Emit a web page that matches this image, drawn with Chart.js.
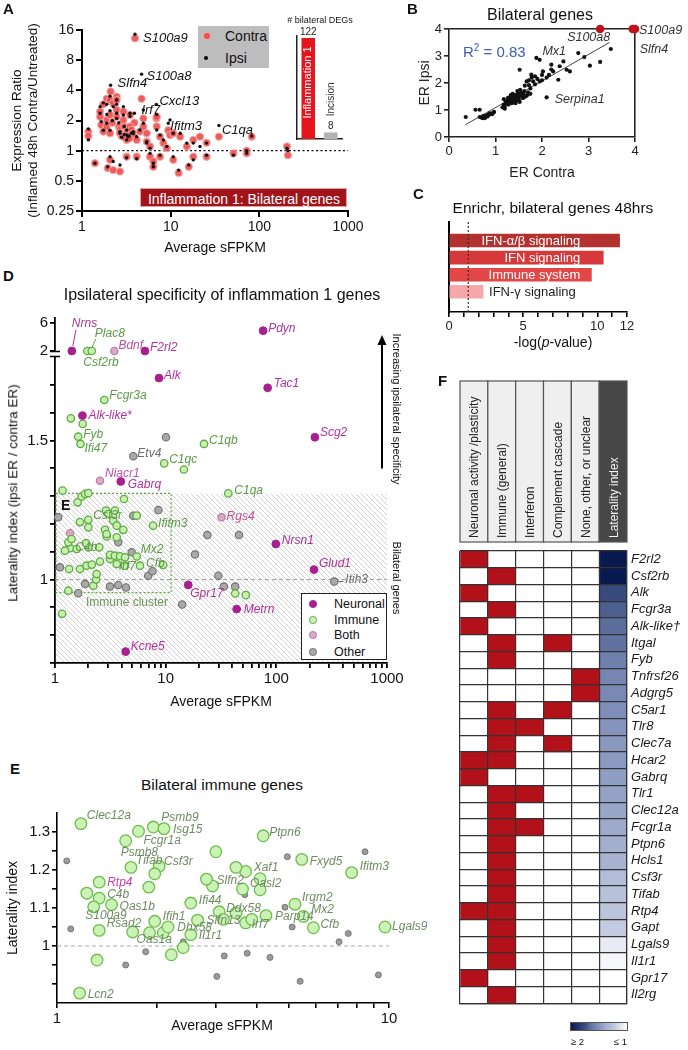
<!DOCTYPE html>
<html lang="en">
<head>
<meta charset="utf-8">
<title>Inflammation 1 bilateral genes</title>
<script src="https://cdn.jsdelivr.net/npm/chart.js"></script>
<style>
  html, body { margin:0; padding:0; background:#fff; }
  #fig { position:relative; width:688px; height:1050px; overflow:hidden; background:#fff;
         font-family:'Liberation Sans', Arial, Helvetica, sans-serif; color:#111; }
  #fig canvas { position:absolute; }
  .t { position:absolute; white-space:nowrap; line-height:1; }
</style>
</head>
<body>
<div id="fig"></div>
<script>
// ======================= DATA =======================
// Panel A : expression ratio vs average sFPKM (first 7 genes are labelled)
const aLabeled = ['S100a9','S100a8','Slfn4','Cxcl13','Irf7','Ifitm3','C1qa'];
const aSfpkm = [3.96,4.7,2.1,6.9,3.9,9.4,35, 1.18,1.18,1.4,1.6,1.6,1.65,1.74,1.74,1.9,1.9,1.9,1.95,2.07,2.07,2.07,2.07,2.25,2.25,2.46,2.46,2.46,2.46,2.6,2.68,2.68,2.68,2.93,2.93,3.0,3.19,3.19,3.3,3.19,3.19,3.48,3.48,3.6,3.79,3.79,4.14,4.14,4.5,4.92,4.92,5.37,5.37,5.85,5.85,6.38,6.38,6.96,6.96,7.59,7.59,8.28,9.03,9.84,10.7,10.7,12.3,12.8,15.2,16,18,18,21.4,25.4,25.4,51,72,72,82,205,210,2.8,3.0,3.4,2.2];
const aContra = [13.2,3.3,3.9,2.1,1.9,1.6,1.38, 1.55,1.40,0.75,2.45,2.18,1.80,1.55,2.9,3.3,2.02,1.74,0.67,3.2,2.27,1.49,0.81,0.64,2.97,3.46,3.2,2.55,2.18,1.74,1.61,1.49,0.62,2.45,2.02,1.74,1.55,1.49,1.43,1.28,0.87,2.27,1.74,1.61,1.49,1.38,1.28,0.87,1.55,2.1,1.74,1.49,1.23,1.10,0.87,0.78,0.69,2.18,1.74,0.87,1.38,1.19,1.06,1.43,1.49,0.81,0.6,1.38,1.10,0.69,1.28,0.87,1.38,0.87,1.2,0.94,0.94,1.0,1.38,1.1,0.9,1.40,1.36,1.32,1.9];
const aIpsi = [14.5,5.8,4.5,2.9,2.36,1.88,1.78, 1.65,1.28,0.75,2.75,2.36,1.95,1.6,3.0,2.9,2.3,1.88,0.69,3.5,2.5,1.6,0.87,0.78,2.75,3.2,2.9,2.36,2.1,1.9,1.55,1.49,0.72,2.75,2.27,1.74,1.61,1.43,1.38,1.28,0.85,2.36,2.2,1.49,1.49,1.55,1.38,0.83,1.61,2.55,1.88,1.23,1.19,1.06,0.94,0.75,0.69,2.3,1.61,0.9,1.43,1.28,1.1,2.02,1.49,0.87,0.64,1.49,1.19,0.72,1.19,0.81,1.1,0.9,1.19,0.9,1.0,0.94,1.4,1.06,1.0,1.36,1.45,1.4,2.0];
const aNoChange = 1;
const aXTicks = [1, 10, 100, 1000];
const aYTicks = [0.25, 0.5, 1, 2, 4, 8, 16];
const aDegCategories = ['Inflammation 1', 'Incision'];
const aDegCounts = [122, 8];

// Panel B : ER Ipsi vs ER Contra (first 2 labelled)
const bGenes = ['Mx1','Serpina1'];
const bContra = [1.88,2.1,
  0.36,0.57,0.66,0.66,0.7,0.72,0.75,0.78,0.8,0.82,0.85,0.88,0.9,0.93,0.95,0.74,0.77,0.83,0.87,0.97,
  1.15,1.18,1.2,1.22,1.25,1.25,1.28,1.3,1.3,1.32,1.35,1.35,1.38,1.4,1.4,1.42,1.45,1.45,1.48,1.5,1.5,1.52,1.55,1.55,1.58,1.6,1.62,1.65,1.68,1.7,1.2,1.27,1.33,1.37,1.43,1.47,1.53,1.6,1.75,1.18,
  1.95,1.52,1.77,2.02,2.2,2.24,2.38,2.46,2.53,2.6,2.35,2.78,2.91,3.03,3.25,3.48,1.63,1.67,1.72,1.81,1.85,1.9,1.95,2.0,2.1,2.15,1.78,1.72,1.85,2.0,2.2,1.75];
const bIpsi = [2.93,1.47,
  0.74,1.01,1.01,0.74,0.72,0.7,0.75,0.73,0.78,0.8,0.82,0.84,0.86,0.85,0.9,0.78,0.7,0.76,0.88,0.93,
  1.1,1.2,1.15,1.3,1.25,1.35,1.2,1.4,1.3,1.45,1.35,1.25,1.5,1.4,1.3,1.55,1.45,1.35,1.6,1.5,1.4,1.3,1.55,1.65,1.45,1.6,1.7,1.5,1.55,1.65,1.05,1.45,1.55,1.6,1.25,1.7,1.75,1.45,1.6,1.4,
  2.86,2.49,2.31,2.43,2.68,2.43,2.62,2.8,2.49,2.43,2.12,3.11,2.96,2.64,2.78,3.26,1.9,2.06,2.1,2.06,1.95,2.15,2.06,2.1,2.2,2.3,2.2,1.92,2.25,2.3,2.5,1.8];
const bCappedGenes = ['S100a8','Slfn4','S100a9'];
const bCappedContra = [3.25, 3.95, 4.0];
const bCappedIpsi = [4, 4, 4];
const bFitX = [0.35, 3.45];
const bFitY = [0.45, 3.5];
const bR2 = 0.83;
const bTicks = [0, 1, 2, 3, 4];

// Panel C : Enrichr
const cTerms = ['IFN-\u03b1/\u03b2 signaling','IFN signaling','Immune system','IFN-\u03b3 signaling'];
const cValues = [11.5, 10.4, 9.6, 2.3];
const cThreshold = 1.3;
const cXTicks = [0,1,2,3,4,5,6,7,8,9,10,11,12];
const cXTickLabels = ['0','','','','','5','','','','','10','','12'];

// Panel D : laterality index vs sFPKM by category
const dNeuronalGenes = ['Nrns','F2rl2','Pdyn','Alk','Tac1','Alk-like*','Scg2','Gabrq','Nrsn1','Glud1','Gpr17','Metrn','Kcne5'];
const dNeuronalX = [1.42,6.5,76,8.7,83.5,1.77,223,3.93,99,219,16,43.8,4.35];
const dNeuronalY = [2,2,4.9,1.725,1.69,1.59,1.512,1.353,1.128,1.036,0.981,0.894,0.741];
const dImmuneGenes = ['Csf2rb','Plac8','Fcgr3a','Fyb','Ifi47','C1qb','C1qc','C1qa','Ifitm3','Csf3r','C4b','Mx2','Cfb','Irf7'];
const dImmuneX = [1.96,2.15,2.79,1.62,1.7,22.2,9.7,36.8,7.7,2.0,1.37,5.47,5.86,3.61,
  1.39,1.78,14.6,1.17,42.5,53,1.16,
  1.32,2.22,2.35,2.38,1.34,1.68,1.93,2.15,2.55,3.14, 4.29,9.5,1.23,1.57,2.0,2.51,3.14,3.48,3.87,4.29,
  1.32,1.41,1.91,2.93,3.61,1.68,2.0,2.83,2.93,3.36, 3.61,4.14,2.89,3.03,3.48,5.47,1.6,1.74,1.87,2.0, 4.2];
const dImmuneY = [2,2,1.646,1.514,1.488,1.488,1.418,1.31,1.194,1.215,1.113,1.083,1.05,1.056,
  1.58,1.56,1.396,1.32,0.95,0.944,0.877,
  0.96,0.978,1.0,1.02,1.038,1.038,1.05,1.054,1.065,1.074, 1.05,1.053,1.104,1.11,1.116,1.116,1.089,1.086,1.084,1.08,
  1.134,1.146,1.131,1.155,1.152,1.207,1.188,1.179,1.164,1.212, 1.194,1.179,1.248,1.236,1.248,1.23,1.278,1.299,1.308,1.311, 1.29];
const dBothGenes = ['Bdnf','Niacr1','Rgs4'];
const dBothX = [3.44,2.55,32,1.37];
const dBothY = [2,1.356,1.224,1.167];
const dOtherGenes = ['Etv4','Itih3'];
const dOtherX = [5.1,334,10.07,8.6,23.8,46,18.4,29.9,33.6,42.5,14.1,1.62,1.87,3.14,3.73,4.38,6.96,7.6,1.11,4.93,3.73,5.1,1.07];
const dOtherY = [1.444,0.993,1.512,1.25,1.16,1.16,1.09,1.014,0.975,0.975,0.91,0.951,0.984,0.975,0.981,0.972,1.014,1.03,1.044,1.098,1.134,1.23,1.224];
const dBilateralMax = 1.31;
const dClusterBox = [1, 11.2, 0.953, 1.31];   // xMin, xMax, yMin, yMax of the immune cluster
const dBreakAt = 1.9;
const dXTicks = [1,2,3,4,5,6,7,8,9,10,20,30,40,50,60,70,80,90,100,200,300,400,500,600,700,800,900,1000];
const dXTickLabels = ['1','','','','','','','','','10','','','','','','','','','100','','','','','','','','','1000'];
const dYTicks = [0.7,0.8,0.9,1,1.1,1.2,1.3,1.4,1.5,1.6,1.7];
const dYTickLabels = ['','','','1','','','','','1.5','',''];
const dY2Ticks = [2, 6];
const dY2TickLabels = ['2', '6'];

// Panel E : bilateral immune genes
const eImmuneGenes = ['Clec12a','Psmb8','Fcgr1a','Psmb9','Isg15','Ptpn6','Tifab','Csf3r','Fxyd5','Ifitm3','Xaf1','Oasl2','Slfn2','Rtp4','C4b','Oas1b','Ifi44','Ddx58','Irgm2','Mx2','Parp14','Slfn13','Irf7','Cfb','Lgals9','Ifih1','S100a9','Rsad2','Oas1a','Dhx58','Il1r1','Lcn2'];
const eImmuneX = [1.18,1.61,1.76,1.95,2.1,4.18,1.67,2.03,5.46,7.72,3.7,4.09,2.94,1.34,1.34,1.46,2.53,3.08,5.21,5.52,4.26,2.65,3.7,5.92,9.73,1.97,1.34,1.69,1.9,2.09,2.53,1.17,
  3.01,1.97,3.46,4.09,2.82,3.62,1.23,1.89,1.29,3.46,3.86,3.17,2.16,2.4,2.21,1.32];
const eImmuneY = [1.322,1.277,1.302,1.313,1.309,1.29,1.207,1.21,1.228,1.193,1.196,1.148,1.158,1.168,1.126,1.109,1.113,1.09,1.11,1.078,1.08,1.068,1.061,1.048,1.05,1.065,1.041,1.037,1.035,1.035,1.03,0.876,
  1.248,1.19,1.207,1.177,1.176,1.15,1.139,1.155,1.103,1.087,1.07,1.07,1.05,0.996,0.977,0.963];
const eBothGenes = ['Rtp4'];
const eOtherX = [1.07,1.1,1.61,1.85,2.4,3.03,3.19,3.74,4.38,3.68,4.86,5.11,5.4,7.07,7.54,8.47,9.29,4.94];
const eOtherY = [1.224,1.045,0.95,0.985,1.011,0.92,0.974,0.981,0.97,1.135,1.102,1.05,0.907,1.011,1.033,1.248,0.924,1.235];
const eXTicks = [1,2,3,4,5,6,7,8,9,10];
const eXTickLabels = ['1','','','','','','','','','10'];
const eYTicks = [0.9,0.95,1,1.05,1.1,1.15,1.2,1.25,1.3];
const eYTickLabels = ['','','1','','1.1','','1.2','','1.3'];

// Panel F : annotation heat map
const fHeaders = ['Neuronal activity /plasticity','Immune (general)','Interferon','Complement cascade','None, other, or unclear','Laterality index'];
const fGenes = ['F2rl2','Csf2rb','Alk','Fcgr3a','Alk-like\u2020','Itgal','Fyb','Tnfrsf26','Adgrg5','C5ar1','Tlr8','Clec7a','Hcar2','Gabrq','Tlr1','Clec12a','Fcgr1a','Ptpn6','Hcls1','Csf3r','Tifab','Rtp4','Gapt','Lgals9','Il1r1','Gpr17','Il2rg'];
const fNeuronal   = [1,0,1,0,1,0,0,0,0,0,0,0,1,1,0,0,0,0,0,0,0,1,0,0,0,1,0];
const fImmune     = [0,1,0,1,0,1,1,0,0,1,1,1,1,0,1,1,1,1,1,1,1,1,1,1,1,0,1];
const fInterferon = [0,0,0,0,0,0,0,0,0,0,1,0,0,0,1,0,1,0,0,0,0,0,0,0,0,0,0];
const fComplement = [0,0,0,0,0,1,0,0,0,1,0,1,0,0,0,0,0,0,0,0,0,0,0,0,0,0,0];
const fNone       = [0,0,0,0,0,0,0,1,1,0,0,0,0,0,0,0,0,0,0,0,0,0,0,0,0,0,0];
const fLaterality = [2.3,2.2,1.72,1.64,1.59,1.57,1.52,1.5,1.49,1.47,1.45,1.43,1.42,1.4,1.38,1.36,1.34,1.31,1.29,1.24,1.22,1.2,1.18,1.07,1.03,0.98,0.97];

// ======================= HELPERS =======================
const fig = document.getElementById('fig');
const FONT = "'Liberation Sans', Arial, Helvetica, sans-serif";
Chart.defaults.font.family = FONT;
Chart.defaults.color = '#111';

function txt(html, x, y, o) {
  o = o || {};
  const d = document.createElement('div');
  d.className = 't';
  d.innerHTML = html;
  d.style.fontSize = (o.size || 13) + 'px';
  if (o.bold) d.style.fontWeight = 'bold';
  if (o.italic) d.style.fontStyle = 'italic';
  if (o.color) d.style.color = o.color;
  d.style.left = x + 'px';
  d.style.top = y + 'px';
  if (o.rot) d.style.transform = 'translate(-50%,-50%) rotate(' + o.rot + 'deg)';
  else d.style.transform = 'translate(' + (o.align === 'left' ? '0' : (o.align === 'right' ? '-100%' : '-50%')) + ',-50%)';
  (o.parent || fig).appendChild(d);
  return d;
}
function box(L, T, W, H, css) {
  const d = document.createElement('div');
  d.style.cssText = 'position:absolute;left:' + L + 'px;top:' + T + 'px;width:' + W + 'px;height:' + H + 'px;box-sizing:border-box;' + (css || '');
  fig.appendChild(d);
  return d;
}
function dot(parent, cx, cy, d, bg, border, bw) {
  const s = document.createElement('span');
  bw = bw || 0;
  s.style.cssText = 'position:absolute;box-sizing:border-box;border-radius:50%;left:' + (cx - d / 2) + 'px;top:' + (cy - d / 2) + 'px;width:' + d + 'px;height:' + d + 'px;background:' + bg + ';border:' + bw + 'px solid ' + border + ';';
  parent.appendChild(s);
}
function mk(id, L, T, W, H) {
  const c = document.createElement('canvas');
  c.id = id; c.width = W; c.height = H;
  c.style.left = L + 'px'; c.style.top = T + 'px';
  c.style.width = W + 'px'; c.style.height = H + 'px';
  fig.appendChild(c);
  return c;
}
const BASE = {responsive:false, maintainAspectRatio:false, animation:false, devicePixelRatio:1, events:[]};
const NOPLUG = {legend:{display:false}, tooltip:{enabled:false}};
const ticksFrom = vals => s => { s.ticks = vals.map(v => ({value: v})); };
const fixW = w => s => { s.width = w; };
const fixH = h => s => { s.height = h; };
function pointLabels(id, items) {
  return {id, afterDatasetsDraw(chart) {
    const ctx = chart.ctx;
    ctx.save();
    items.forEach(it => {
      const px = chart.scales[it.xAxis || 'x'].getPixelForValue(it.x);
      const py = chart.scales[it.yAxis || 'y'].getPixelForValue(it.y);
      if (it.leader) {
        ctx.strokeStyle = it.color; ctx.lineWidth = 1;
        ctx.beginPath();
        ctx.moveTo(px + it.leader[0], py + it.leader[1]);
        ctx.lineTo(px + it.leader[2], py + it.leader[3]);
        ctx.stroke();
      }
      ctx.font = 'italic ' + it.size + 'px ' + FONT;
      ctx.fillStyle = it.color;
      ctx.textAlign = 'left'; ctx.textBaseline = 'middle';
      ctx.fillText(it.text, px + it.dx, py + it.dy);
    });
    ctx.restore();
  }};
}
function axisStyle(width, tick) {
  return {
    grid: {drawOnChartArea:false, tickLength:tick || 5, color:'#000', lineWidth:width},
    border: {color:'#000', width:width}
  };
}

// ======================= PANEL A =======================
const aLabelOffsets = [[8,4],[5,2],[7,-2],[3,-3],[7,-3],[2,3],[3,5]];
new Chart(mk('chartA', 0, 0, 370, 260), {
  type: 'scatter',
  data: {datasets: [
    {label:'Ipsi', data:aSfpkm.map((x,i) => ({x, y:aIpsi[i]})), order:0, pointRadius:1.7,
     pointBackgroundColor:'#111', backgroundColor:'#111', pointBorderWidth:0, clip:false},
    {label:'Contra', data:aSfpkm.map((x,i) => ({x, y:aContra[i]})), order:1, pointRadius:3.7,
     pointBackgroundColor:'rgba(236,74,74,0.9)', backgroundColor:'rgba(236,74,74,0.9)',
     pointBorderColor:'rgba(246,172,172,0.95)', pointBorderWidth:1, clip:false},
    {type:'line', label:'no change', data:[{x:aXTicks[0], y:aNoChange},{x:aXTicks[aXTicks.length-1], y:aNoChange}],
     borderColor:'#000', borderWidth:1.3, borderDash:[2,2.5], pointRadius:0, order:2}
  ]},
  options: Object.assign({}, BASE, {
    plugins: NOPLUG,
    layout: {padding:{left:0, top:30, right:22, bottom:0}},
    scales: {
      x: Object.assign({type:'logarithmic', min:1, max:1000, afterFit:fixH(49), afterBuildTicks:ticksFrom(aXTicks),
        ticks:{autoSkip:false, maxRotation:0, font:{size:14}, color:'#111', padding:2, callback:v => String(v)},
        title:{display:true, text:'Average sFPKM', font:{size:14}, color:'#111', padding:{top:0, bottom:3.6}}}, axisStyle(2, 6)),
      y: Object.assign({type:'logarithmic', min:0.25, max:16, afterFit:fixW(82), afterBuildTicks:ticksFrom(aYTicks),
        ticks:{autoSkip:false, font:{size:14}, color:'#111', padding:2, callback:v => String(v)},
        title:{display:true, text:['Expression Ratio','(Inflamed 48h Contra/Untreated)'], font:{size:13.5}, color:'#111', padding:{top:9, bottom:0}}}, axisStyle(2, 6))
    }
  }),
  plugins: [pointLabels('aLabels', aLabeled.map((g,i) => ({text:g, x:aSfpkm[i], y:aIpsi[i], dx:aLabelOffsets[i][0], dy:aLabelOffsets[i][1], color:'#111', size:13})))]
});

// inset: number of bilateral DEGs
const insetLabels = {
  id: 'insetLabels',
  afterDatasetsDraw(chart) {
    const ctx = chart.ctx, bars = chart.getDatasetMeta(0).data;
    ctx.save();
    ctx.font = '10px ' + FONT; ctx.fillStyle = '#222'; ctx.textAlign = 'center'; ctx.textBaseline = 'bottom';
    bars.forEach((b,i) => ctx.fillText(String(aDegCounts[i]), b.x, b.y - 1));
    bars.forEach((b,i) => {
      ctx.save();
      const inside = (b.base - b.y) > 60;
      const cy = inside ? (b.y + b.base) / 2 - 6 : b.y - 33;
      ctx.translate(b.x, cy); ctx.rotate(-Math.PI / 2);
      ctx.textAlign = 'center'; ctx.textBaseline = 'middle';
      ctx.fillStyle = inside ? '#fff' : '#333';
      ctx.font = (inside ? 11 : 10) + 'px ' + FONT;
      ctx.fillText(aDegCategories[i], 0, 0);
      ctx.restore();
    });
    ctx.restore();
  }
};
new Chart(mk('chartAinset', 285, 15, 75, 130), {
  type: 'bar',
  data: {labels:aDegCategories, datasets:[{data:aDegCounts, backgroundColor:['#e6141c','#b3b3b3'], barPercentage:0.6, categoryPercentage:1}]},
  options: Object.assign({}, BASE, {
    plugins: NOPLUG,
    layout: {padding:{left:0, top:21, right:18, bottom:0}},
    scales: {
      x: {afterFit:fixH(6), ticks:{display:false}, grid:{display:false}, border:{color:'#222', width:1.5}},
      y: {min:0, max:124.5, afterFit:fixW(12), ticks:{display:false}, grid:{display:false}, border:{color:'#222', width:1.5}}
    }
  }),
  plugins: [insetLabels]
});

// ======================= PANEL B =======================
const bLabelOffsets = [[6,-6],[8,2]];
const bCappedOffsets = [[-33,9],[7,21],[4,2]];
const frameColor = c => (c.tick && c.tick.value === bTicks[bTicks.length-1]) ? '#222' : 'rgba(0,0,0,0)';
new Chart(mk('chartB', 405, 0, 283, 185), {
  type: 'scatter',
  data: {datasets: [
    {label:'genes', data:bContra.map((x,i) => ({x, y:bIpsi[i]})), pointRadius:2.1, pointBackgroundColor:'#111', backgroundColor:'#111', pointBorderWidth:0, clip:false, order:1},
    {label:'capped', data:bCappedContra.map((x,i) => ({x, y:bCappedIpsi[i]})), pointRadius:4.3, pointBackgroundColor:'#c0121a', backgroundColor:'#c0121a', pointBorderWidth:0, clip:false, order:0},
    {type:'line', label:'fit', data:bFitX.map((x,i) => ({x, y:bFitY[i]})), borderColor:'#444', borderWidth:1, pointRadius:0, order:2}
  ]},
  options: Object.assign({}, BASE, {
    plugins: NOPLUG,
    layout: {padding:{left:0, top:29, right:53, bottom:0}},
    scales: {
      x: {type:'linear', min:0, max:4, afterFit:fixH(48), afterBuildTicks:ticksFrom(bTicks),
        ticks:{autoSkip:false, font:{size:13}, color:'#222', padding:2},
        grid:{color:frameColor, tickColor:'#222', tickLength:5, lineWidth:1.6},
        border:{color:'#222', width:1.6},
        title:{display:true, text:'ER Contra', font:{size:14}, color:'#222', padding:{top:0, bottom:3.6}}},
      y: {type:'linear', min:0, max:4, afterFit:fixW(44), afterBuildTicks:ticksFrom(bTicks),
        ticks:{autoSkip:false, font:{size:13}, color:'#222', padding:2},
        grid:{color:frameColor, tickColor:'#222', tickLength:5, lineWidth:1.6},
        border:{color:'#222', width:1.6},
        title:{display:true, text:'ER Ipsi', font:{size:14}, color:'#222', padding:{top:11.6, bottom:0}}}
    }
  }),
  plugins: [pointLabels('bLabels',
    bGenes.map((g,i) => ({text:g, x:bContra[i], y:bIpsi[i], dx:bLabelOffsets[i][0], dy:bLabelOffsets[i][1], color:'#333', size:12.5}))
    .concat(bCappedGenes.map((g,i) => ({text:g, x:bCappedContra[i], y:bCappedIpsi[i], dx:bCappedOffsets[i][0], dy:bCappedOffsets[i][1], color:'#333', size:12.5}))))]
});

// ======================= PANEL C =======================
const cColors = ['#b3312f','#d6393a','#e24646','#f6a7a7'];
const cLabelRight = 8.85;
const cDecor = {
  id: 'cDecor',
  afterDatasetsDraw(chart) {
    const {ctx, chartArea:a, scales:{x}} = chart;
    const bars = chart.getDatasetMeta(0).data;
    ctx.save();
    ctx.setLineDash([2, 2]); ctx.strokeStyle = '#333'; ctx.lineWidth = 1.2;
    const tx = x.getPixelForValue(cThreshold);
    ctx.beginPath(); ctx.moveTo(tx, a.top); ctx.lineTo(tx, a.bottom); ctx.stroke();
    ctx.setLineDash([]);
    ctx.font = '13px ' + FONT; ctx.textBaseline = 'middle';
    bars.forEach((b,i) => {
      if (cValues[i] > cLabelRight) {
        ctx.fillStyle = '#fff'; ctx.textAlign = 'right';
        ctx.fillText(cTerms[i], x.getPixelForValue(cLabelRight), b.y + 0.5);
      } else {
        ctx.fillStyle = '#222'; ctx.textAlign = 'left';
        ctx.fillText(cTerms[i], x.getPixelForValue(cValues[i] + 0.4), b.y + 0.5);
      }
    });
    ctx.restore();
  }
};
new Chart(mk('chartC', 405, 215, 283, 125), {
  type: 'bar',
  data: {datasets:[{label:'-log(p)', data:cValues.map((v,i) => ({x:v, y:i})), backgroundColor:cColors, barThickness:13, borderWidth:0}]},
  options: Object.assign({}, BASE, {
    indexAxis: 'y',
    plugins: NOPLUG,
    layout: {padding:{left:0, top:7, right:61, bottom:0}},
    scales: {
      x: Object.assign({type:'linear', min:0, max:12, afterFit:fixH(28), afterBuildTicks:ticksFrom(cXTicks),
        ticks:{autoSkip:false, maxRotation:0, font:{size:13}, color:'#222', padding:2, callback:(v,i) => cXTickLabels[i]}}, axisStyle(1.6, 5)),
      y: {type:'linear', reverse:true, min:-0.646, max:3.744, afterFit:fixW(44), ticks:{display:false}, grid:{display:false}, border:{color:'#000', width:2}}
    }
  }),
  plugins: [cDecor]
});

// ======================= PANEL D =======================
const dStyle = {
  Neuronal: {bg:'#a8208f', border:'#a8208f', bw:1, r:3.9, label:'#b0329c', order:0},
  Immune:   {bg:'#c9efb1', border:'#5dae40', bw:1.3, r:3.7, label:'#5b9b44', order:1},
  Both:     {bg:'#d9a9c8', border:'#b47a9f', bw:1.1, r:3.7, label:'#c04fa3', order:2},
  Other:    {bg:'#a9a9a9', border:'#6f6f6f', bw:1.1, r:3.7, label:'#6e6e6e', order:3}
};
const dCats = [
  {name:'Neuronal', X:dNeuronalX, Y:dNeuronalY, G:dNeuronalGenes},
  {name:'Immune', X:dImmuneX, Y:dImmuneY, G:dImmuneGenes},
  {name:'Both', X:dBothX, Y:dBothY, G:dBothGenes},
  {name:'Other', X:dOtherX, Y:dOtherY, G:dOtherGenes}
];
const dDatasets = [];
dCats.forEach(c => {
  const st = dStyle[c.name];
  [false, true].forEach(upper => {
    dDatasets.push({
      label: c.name, yAxisID: upper ? 'y2' : 'y', order: st.order, clip:false,
      data: c.X.map((x,i) => ({x, y:c.Y[i]})).filter(p => upper ? p.y >= dBreakAt : p.y < dBreakAt),
      pointRadius: st.r, pointBackgroundColor: st.bg, backgroundColor: st.bg,
      pointBorderColor: st.border, borderColor: st.border, pointBorderWidth: st.bw
    });
  });
});
// label placement: [gene, category, dx, dy, leader]
const dLabelSpecs = [
  ['Nrns','Neuronal',0,-27,[1,-5,4,-21]], ['F2rl2','Neuronal',5,-3], ['Pdyn','Neuronal',5,-2], ['Alk','Neuronal',5,-2],
  ['Tac1','Neuronal',6,-4], ['Alk-like*','Neuronal',6,0], ['Scg2','Neuronal',5,-5], ['Gabrq','Neuronal',7,3],
  ['Nrsn1','Neuronal',6,-3], ['Glud1','Neuronal',5,-6], ['Gpr17','Neuronal',2,9], ['Metrn','Neuronal',7,1], ['Kcne5','Neuronal',5,-5],
  ['Bdnf','Both',4,-5], ['Niacr1','Both',5,-7], ['Rgs4','Both',5,-1],
  ['Csf2rb','Immune',-4,12], ['Plac8','Immune',3,-17,[0,-3,4,-12]], ['Fcgr3a','Immune',5,-4], ['Fyb','Immune',5,-2],
  ['Ifi47','Immune',4,5], ['C1qb','Immune',5,-3], ['C1qc','Immune',5,-4], ['C1qa','Immune',6,-3], ['Ifitm3','Immune',5,-2],
  ['Csf3r','Immune',5,-4], ['C4b','Immune',5,-1], ['Mx2','Immune',4,-7], ['Cfb','Immune',6,-2], ['Irf7','Immune',2,3],
  ['Etv4','Other',4,-3], ['Itih3','Other',11,-2,[4,0,9,0]]
];
const dLabelItems = dLabelSpecs.map(s => {
  const c = dCats.find(k => k.name === s[1]);
  const i = c.G.indexOf(s[0]);
  const y = c.Y[i];
  return {text:s[0], x:c.X[i], y, yAxis: y >= dBreakAt ? 'y2' : 'y', dx:s[2], dy:s[3], leader:s[4], color:dStyle[s[1]].label, size:12};
});
const dDecor = {
  id: 'dDecor',
  beforeDatasetsDraw(chart) {
    const {ctx, chartArea:a, scales:{x, y}} = chart;
    const top = y.getPixelForValue(dBilateralMax), bot = y.bottom;
    ctx.save();
    ctx.beginPath(); ctx.rect(a.left + 1, top, a.right - a.left - 1, bot - top - 1); ctx.clip();
    ctx.strokeStyle = '#cdcdcd'; ctx.lineWidth = 0.9;
    ctx.beginPath();
    const h = bot - top;
    for (let k = a.left - h; k < a.right; k += 5) { ctx.moveTo(k, top); ctx.lineTo(k + h, bot); }
    ctx.stroke();
    ctx.restore();
    ctx.save();
    ctx.setLineDash([4, 3]); ctx.strokeStyle = '#9a9a9a'; ctx.lineWidth = 1;
    const y1 = y.getPixelForValue(1);
    ctx.beginPath(); ctx.moveTo(a.left, y1); ctx.lineTo(a.right, y1); ctx.stroke();
    ctx.setLineDash([2, 2]); ctx.strokeStyle = '#5fa445'; ctx.lineWidth = 1.2;
    const bx0 = x.getPixelForValue(dClusterBox[0]), bx1 = x.getPixelForValue(dClusterBox[1]);
    const by0 = y.getPixelForValue(dClusterBox[2]), by1 = y.getPixelForValue(dClusterBox[3]);
    ctx.strokeRect(bx0 + 1, by1, bx1 - bx0 - 1, by0 - by1);
    ctx.restore();
  },
  afterDraw(chart) {
    const {ctx, chartArea:a, scales:{y, y2}} = chart;
    const bx = y.right, by = y.top;
    ctx.save();
    ctx.fillStyle = '#fff'; ctx.fillRect(bx - 3, by - 2, 6, 4);
    ctx.strokeStyle = '#000'; ctx.lineWidth = 1.5;
    ctx.beginPath();
    ctx.moveTo(bx - 5, by - 2.5); ctx.lineTo(bx + 5, by - 2.5);
    ctx.moveTo(bx - 5, by + 2.5); ctx.lineTo(bx + 5, by + 2.5);
    ctx.stroke();
    // arrow: increasing ipsilateral specificity
    const ax = a.right - 5, aTop = y2.top + 17, aBot = y.getPixelForValue(1.4);
    ctx.lineWidth = 2;
    ctx.beginPath(); ctx.moveTo(ax, aBot); ctx.lineTo(ax, aTop + 8); ctx.stroke();
    ctx.fillStyle = '#000';
    ctx.beginPath(); ctx.moveTo(ax, aTop); ctx.lineTo(ax - 4.5, aTop + 10); ctx.lineTo(ax + 4.5, aTop + 10); ctx.closePath(); ctx.fill();
    ctx.restore();
  }
};
new Chart(mk('chartD', 0, 300, 420, 412), {
  type: 'scatter',
  data: {datasets: dDatasets},
  options: Object.assign({}, BASE, {
    plugins: NOPLUG,
    layout: {padding:{left:0, top:18, right:33, bottom:0}},
    scales: {
      x: Object.assign({type:'logarithmic', min:1, max:1000, afterFit:fixH(49), afterBuildTicks:ticksFrom(dXTicks),
        ticks:{autoSkip:false, maxRotation:0, font:{size:15}, color:'#111', padding:2, callback:(v,i) => dXTickLabels[i]},
        title:{display:true, text:'Average sFPKM', font:{size:14}, color:'#111', padding:{top:0, bottom:1.6}}}, axisStyle(1.8, 5)),
      y: Object.assign({type:'linear', position:'left', stack:'d', stackWeight:309, min:0.7, max:1.8115, afterFit:fixW(55), afterBuildTicks:ticksFrom(dYTicks),
        ticks:{autoSkip:false, font:{size:15}, color:'#111', padding:2, callback:(v,i) => dYTickLabels[i]}}, axisStyle(1.8, 5)),
      y2: Object.assign({type:'linear', position:'left', stack:'d', stackWeight:36, min:1.57, max:6.71, afterFit:fixW(55), afterBuildTicks:ticksFrom(dY2Ticks),
        ticks:{autoSkip:false, font:{size:15}, color:'#111', padding:2, callback:(v,i) => dY2TickLabels[i]}}, axisStyle(1.8, 5))
    }
  }),
  plugins: [dDecor, pointLabels('dLabels', dLabelItems)]
});

// ======================= PANEL E =======================
const eLabelOffsets = [[6,-8],[-5,12],[5,9],[8,-9],[9,1],[6,-3],[5,-7],[5,-5],[8,2],[8,-6],[8,-4],[-10,-6],[4,-5],[8,0],[8,-3],[8,2],[8,-2],[7,-3],[7,-7],[8,-7],[9,1],[9,0],[6,2],[7,-3],[7,0],[8,-5],[-14,-15],[-26,-8],[-13,7],[14,-5],[8,1],[8,2]];
const eDecor = {
  id: 'eDecor',
  beforeDatasetsDraw(chart) {
    const {ctx, chartArea:a, scales:{y}} = chart;
    const y1 = y.getPixelForValue(1);
    ctx.save(); ctx.setLineDash([4, 3]); ctx.strokeStyle = '#a8a8a8'; ctx.lineWidth = 1;
    ctx.beginPath(); ctx.moveTo(a.left, y1); ctx.lineTo(a.right, y1); ctx.stroke(); ctx.restore();
  }
};
new Chart(mk('chartE', 0, 800, 440, 225), {
  type: 'scatter',
  data: {datasets: [
    {label:'Immune', data:eImmuneX.map((x,i) => ({x, y:eImmuneY[i]})), order:0, clip:false, pointRadius:5.8,
     pointBackgroundColor:'#cdf2b8', backgroundColor:'#cdf2b8', pointBorderColor:'#6cbf4a', borderColor:'#6cbf4a', pointBorderWidth:1.3},
    {label:'Other', data:eOtherX.map((x,i) => ({x, y:eOtherY[i]})), order:1, clip:false, pointRadius:3,
     pointBackgroundColor:'#9b9b9b', backgroundColor:'#9b9b9b', pointBorderColor:'#666', borderColor:'#666', pointBorderWidth:0.8}
  ]},
  options: Object.assign({}, BASE, {
    plugins: NOPLUG,
    layout: {padding:{left:0, top:13, right:51, bottom:0}},
    scales: {
      x: Object.assign({type:'logarithmic', min:1, max:10, afterFit:fixH(22), afterBuildTicks:ticksFrom(eXTicks),
        ticks:{autoSkip:false, maxRotation:0, font:{size:15}, color:'#111', padding:2, callback:(v,i) => eXTickLabels[i]}}, axisStyle(1.6, 5)),
      y: Object.assign({type:'linear', min:0.85, max:1.35, afterFit:fixW(57), afterBuildTicks:ticksFrom(eYTicks),
        ticks:{autoSkip:false, font:{size:15}, color:'#111', padding:2, callback:(v,i) => eYTickLabels[i]},
        title:{display:true, text:'Laterality index', font:{size:14}, color:'#111', padding:{top:4.6, bottom:0}}}, axisStyle(1.6, 5))
    }
  }),
  plugins: [eDecor, pointLabels('eLabels', eImmuneGenes.map((g,i) => ({text:g, x:eImmuneX[i], y:eImmuneY[i], dx:eLabelOffsets[i][0], dy:eLabelOffsets[i][1],
    color: eBothGenes.includes(g) ? '#c23fae' : '#6f8b63', size:12})))]
});

// ======================= PANEL F =======================
const fLatStops = [[1.0,[255,255,255]],[1.2,[188,197,220]],[1.45,[132,148,189]],[1.7,[61,77,128]],[2.0,[10,24,80]]];
function latColor(v) {
  const s = fLatStops;
  if (v <= s[0][0]) return 'rgb(' + s[0][1].join(',') + ')';
  for (let k = 1; k < s.length; k++) {
    if (v <= s[k][0]) {
      const t = (v - s[k-1][0]) / (s[k][0] - s[k-1][0]);
      const c = s[k-1][1].map((a, j) => Math.round(a + (s[k][1][j] - a) * t));
      return 'rgb(' + c.join(',') + ')';
    }
  }
  return 'rgb(' + s[s.length-1][1].join(',') + ')';
}
const fCols = [fNeuronal, fImmune, fInterferon, fComplement, fNone];
const fDatasets = fCols.map((col, c) => ({
  label: fHeaders[c], data: col.map(v => v ? [c, c + 1] : null), backgroundColor:'#b3111a',
  grouped:false, barPercentage:1, categoryPercentage:1, borderWidth:0
}));
fDatasets.push({label: fHeaders[5], data: fLaterality.map(() => [5, 6]), backgroundColor: fLaterality.map(latColor),
  grouped:false, barPercentage:1, categoryPercentage:1, borderWidth:0});
const fHeaderPlugin = {
  id: 'fHeader',
  afterDraw(chart) {
    const {ctx, chartArea:a, scales:{x}} = chart;
    const bot = a.top - 9, top = a.top - 170;
    ctx.save();
    fHeaders.forEach((h, c) => {
      const x0 = x.getPixelForValue(c), x1 = x.getPixelForValue(c + 1);
      const dark = c === fHeaders.length - 1;
      ctx.fillStyle = dark ? '#474747' : '#efefef';
      ctx.fillRect(x0, top, x1 - x0, bot - top);
      ctx.strokeStyle = '#555'; ctx.lineWidth = 1.2;
      ctx.strokeRect(x0, top, x1 - x0, bot - top);
      ctx.save();
      ctx.translate((x0 + x1) / 2 + 4.5, bot - 4);
      ctx.rotate(-Math.PI / 2);
      ctx.font = '12px ' + FONT; ctx.fillStyle = dark ? '#f2f2f2' : '#222';
      ctx.textAlign = 'left'; ctx.textBaseline = 'alphabetic';
      ctx.fillText(h, 0, 0);
      ctx.restore();
    });
    ctx.restore();
  }
};
new Chart(mk('chartF', 425, 375, 263, 640), {
  type: 'bar',
  data: {labels: fGenes, datasets: fDatasets},
  options: Object.assign({}, BASE, {
    indexAxis: 'y',
    plugins: NOPLUG,
    layout: {padding:{left:35, top:176, right:0, bottom:0}},
    scales: {
      x: {type:'linear', min:0, max:6, afterFit:fixH(5), afterBuildTicks:ticksFrom([0,1,2,3,4,5,6]),
        ticks:{display:false}, grid:{color:'#333', lineWidth:1.2, drawTicks:false, z:1}, border:{color:'#333', width:1.2, z:1}},
      y: {type:'category', position:'right', offset:true, afterFit:fixW(61),
        ticks:{autoSkip:false, font:{size:13, style:'italic'}, color:'#1a1a1a', padding:4},
        grid:{offset:true, color:'#333', lineWidth:1.2, drawTicks:false, z:1}, border:{color:'#333', width:1.2, z:1}}
    }
  }),
  plugins: [fHeaderPlugin]
});

// ======================= TEXT / ANNOTATIONS =======================
// panel letters
txt('A', 3, 8, {size:15, bold:true, align:'left'});
txt('B', 407, 8, {size:15, bold:true, align:'left'});
txt('C', 413, 193, {size:15, bold:true, align:'left'});
txt('D', 3, 275, {size:15, bold:true, align:'left'});
txt('E', 10, 768, {size:15, bold:true, align:'left'});
txt('F', 438, 380, {size:15, bold:true, align:'left'});

// A legend, banner, inset title
const aLeg = box(198, 26, 71, 42, 'background:#bdbdbd;');
dot(aLeg, 9, 10, 7.4, 'rgba(236,74,74,0.9)', 'rgba(246,172,172,0.95)', 1);
dot(aLeg, 8, 32, 3.4, '#111', '#111', 0);
txt('Contra', 27, 10, {size:14, align:'left', parent:aLeg});
txt('Ipsi', 27, 32, {size:14, align:'left', parent:aLeg});
const aBan = box(140, 188, 207, 19, 'background:#a3131a;border:1px solid #e3a3a3;');
txt('Inflammation 1: Bilateral genes', 103, 9.5, {size:14, color:'#fff', parent:aBan});
txt('# bilateral DEGs', 320, 20, {size:9});

// B title + R2
txt('Bilateral genes', 540, 15, {size:16});
txt('R<sup style="font-size:10px">2</sup> = ' + bR2.toFixed(2), 463, 51, {size:15, color:'#3c5bbf', align:'left'});

// C title + axis title
txt('Enrichr, bilateral genes 48hrs', 553, 208, {size:15.5});
txt('-log(<i>p</i>-value)', 553, 342, {size:14});

// D titles and notes
txt('Ipsilateral specificity of inflammation 1 genes', 222, 295, {size:16});
txt('Laterality index (ipsi ER / contra ER)', 13, 493, {size:13.5, rot:-90});
txt('Increasing ipsilateral specificity', 396, 409, {size:11, rot:90});
txt('Bilateral genes', 396, 578, {size:11, rot:90});
txt('E', 61, 505, {size:14, bold:true, align:'left'});
txt('Immune cluster', 127, 602, {size:12, color:'#6d955b'});
const dLeg = box(301, 593, 86, 67, 'background:#fff;border:1px solid #222;');
['Neuronal','Immune','Both','Other'].forEach((n, k) => {
  const st = dStyle[n];
  const cy = [10, 26, 41, 58][k];
  dot(dLeg, 11, cy, st.r * 2, st.bg, st.border, st.bw);
  txt(n, 32, cy, {size:12.5, align:'left', parent:dLeg});
});

// E titles
txt('Bilateral immune genes', 222, 785, {size:15.5});
txt('Average sFPKM', 222, 1025, {size:14});

// F colour bar
box(570, 1022, 58, 9, 'border:1px solid #555;background:linear-gradient(to right,' +
  [2.0,1.85,1.7,1.55,1.45,1.3,1.2,1.1,1.0].map(latColor).join(',') + ');');
txt('\u2265 2', 571, 1042, {size:9.5, align:'left'});
txt('\u2264 1', 627, 1042, {size:9.5, align:'right'});
</script>
</body>
</html>
